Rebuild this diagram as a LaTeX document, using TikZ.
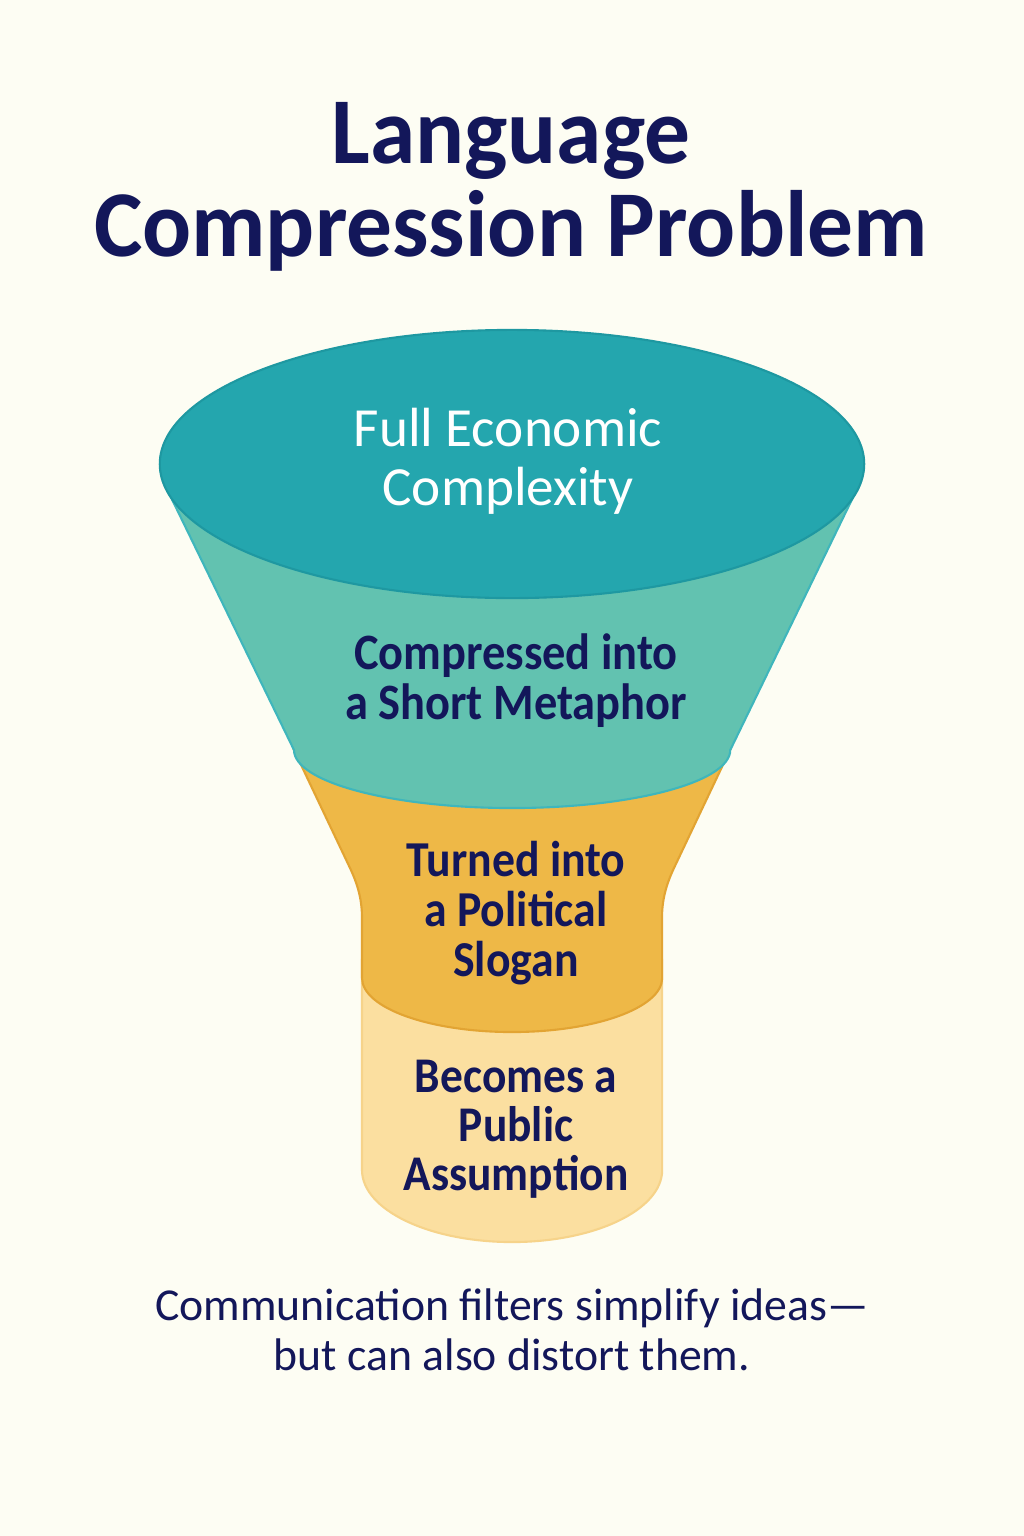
\documentclass[tikz,border=0pt]{standalone}
\usepackage{fontspec}
\setmainfont{Carlito}
\newfontfamily\titlefont[FakeStretch=0.97]{Carlito}
\newfontfamily\bandfont[FakeStretch=0.91]{Carlito}

\definecolor{paper}{HTML}{FDFDF3}
\definecolor{navy}{HTML}{13175A}
\definecolor{deepteal}{HTML}{24A6AE}
\definecolor{deeptealedge}{HTML}{1E98A1}
\definecolor{softteal}{HTML}{62C2B0}
\definecolor{softtealedge}{HTML}{3FB6BC}
\definecolor{amber}{HTML}{EEB847}
\definecolor{amberedge}{HTML}{E2A433}
\definecolor{cream}{HTML}{FBDFA0}
\definecolor{creamedge}{HTML}{F6D38A}

\begin{document}
\begin{tikzpicture}[x=0.01cm, y=-0.01cm,
    layer/.style={line width=0.6pt},
    bandtext/.style={align=center, text=navy, inner sep=0pt}]

    \fill [paper] (0,0) rectangle (1024,1536);

    \node [bandtext, font=\titlefont\fontsize{26.8}{26.6}\selectfont\bfseries]
        (title) at (511,187) {Language\\Compression Problem};

    % funnel, bottom layer first
    \draw [layer, fill=cream, draw=creamedge]
        (362,960)
        -- (362,1170)
        arc [start angle=180, end angle=360, x radius=1.5cm, y radius=0.72cm]
        -- (662,960)
        -- cycle
        ;

    \draw [layer, fill=amber, draw=amberedge]
        (294,750)
        -- (350,868)
        .. controls (357,883) and (362,898) .. (362,918)
        -- (362,978)
        arc [start angle=180, end angle=360, x radius=1.5cm, y radius=0.54cm]
        -- (662,918)
        .. controls (662,898) and (667,883) .. (674,868)
        -- (730,750)
        -- cycle
        ;

    \draw [layer, fill=softteal, draw=softtealedge]
        (165,485)
        -- (294,750)
        arc [start angle=180, end angle=360, x radius=2.18cm, y radius=0.58cm]
        -- (859,485)
        -- cycle
        ;

    \draw [layer, fill=deepteal, draw=deeptealedge]
        (512,464) ellipse [x radius=3.52cm, y radius=1.34cm]
        ;

    \node [bandtext, text=white, font=\fontsize{15.7}{16.8}\selectfont]
        (full) at (508,461) {Full Economic\\Complexity};
    \node [bandtext, font=\bandfont\fontsize{14.5}{14.2}\selectfont\bfseries]
        (metaphor) at (516,681) {Compressed into\\a Short Metaphor};
    \node [bandtext, font=\bandfont\fontsize{14.3}{14.2}\selectfont\bfseries]
        (slogan) at (516,913) {Turned into\\a Political\\Slogan};
    \node [bandtext, font=\bandfont\fontsize{14.2}{14}\selectfont\bfseries]
        (assumption) at (516,1129) {Becomes a\\Public\\Assumption};

    \node [bandtext, font=\fontsize{13}{14.2}\selectfont]
        (caption) at (512,1330) {Communication filters simplify ideas---\\but can also distort them.};
\end{tikzpicture}
\end{document}
